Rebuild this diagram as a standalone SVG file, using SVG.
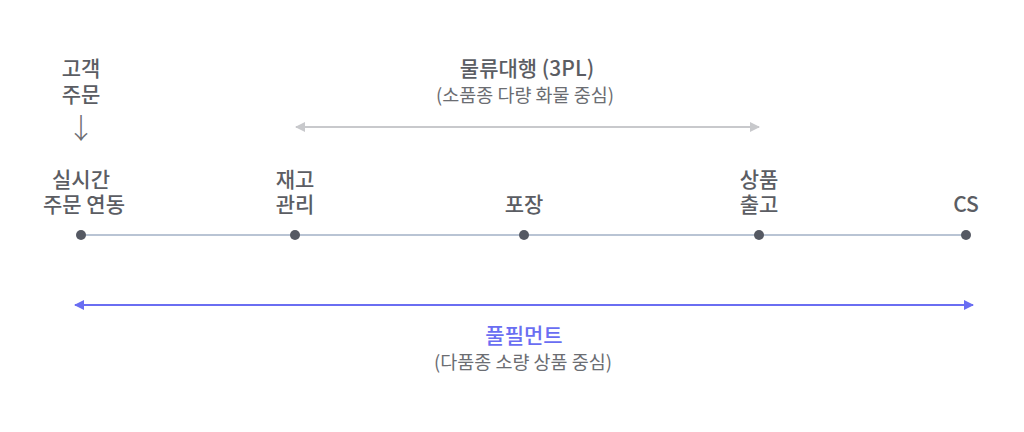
<svg xmlns="http://www.w3.org/2000/svg" width="1024" height="432" viewBox="0 0 1024 432">
<style>
.lbl{font-family:"Noto Sans CJK KR","Noto Sans",sans-serif;font-size:21px;font-weight:500;fill:#5b5d63;text-anchor:middle}
.sub{font-family:"Noto Sans CJK KR","Noto Sans",sans-serif;font-size:18.5px;fill:#6b6d72;text-anchor:middle}
.blue{fill:#6a6ef2}
.dot{fill:#555963}
</style>
<defs>
<marker id="ag" viewBox="0 0 10 10" refX="9" refY="5" markerWidth="10" markerHeight="10" markerUnits="userSpaceOnUse" orient="auto-start-reverse"><path d="M0,0L10,5L0,10z" fill="#c8c9cc"/></marker>
<marker id="ab" viewBox="0 0 10 10" refX="9" refY="5" markerWidth="10" markerHeight="10" markerUnits="userSpaceOnUse" orient="auto-start-reverse"><path d="M0,0L10,5L0,10z" fill="#6a6ef2"/></marker>
</defs>
<rect width="1024" height="432" fill="#ffffff"/>
<g id="connectors">
<line x1="81" y1="235" x2="966" y2="235" stroke="#b9c4d4" stroke-width="2"/>
<line x1="296" y1="127" x2="759" y2="127" stroke="#c8c9cc" stroke-width="2" marker-start="url(#ag)" marker-end="url(#ag)"/>
<line x1="75" y1="305" x2="973" y2="305" stroke="#6a6ef2" stroke-width="2" marker-start="url(#ab)" marker-end="url(#ab)"/>
</g>
<g id="customer-order">
<text class="lbl"><tspan x="81" y="76">고객</tspan><tspan x="81" y="102">주문</tspan></text>
<text class="lbl" x="81" y="139" style="font-size:28px;font-weight:300;fill:#6b6d72">↓</text>
</g>
<g id="n1">
<text class="lbl"><tspan x="81" y="187">실시간</tspan><tspan x="84" y="212">주문 연동</tspan></text>
<circle class="dot" cx="81" cy="235" r="5"/>
</g>
<g id="n2">
<text class="lbl"><tspan x="295" y="187">재고</tspan><tspan x="295" y="212">관리</tspan></text>
<circle class="dot" cx="295" cy="235" r="5"/>
</g>
<g id="n3">
<text class="lbl" x="524" y="212">포장</text>
<circle class="dot" cx="524" cy="235" r="5"/>
</g>
<g id="n4">
<text class="lbl"><tspan x="759" y="187">상품</tspan><tspan x="759" y="212">출고</tspan></text>
<circle class="dot" cx="759" cy="235" r="5"/>
</g>
<g id="n5">
<text class="lbl" x="966" y="212">CS</text>
<circle class="dot" cx="966" cy="235" r="5"/>
</g>
<g id="3pl">
<text class="lbl" x="527" y="76">물류대행 (3PL)</text>
<text class="sub" x="525" y="102">(소품종 다량 화물 중심)</text>
</g>
<g id="fulfillment">
<text class="lbl blue" x="524" y="343">풀필먼트</text>
<text class="sub" x="523" y="369">(다품종 소량 상품 중심)</text>
</g>
</svg>
